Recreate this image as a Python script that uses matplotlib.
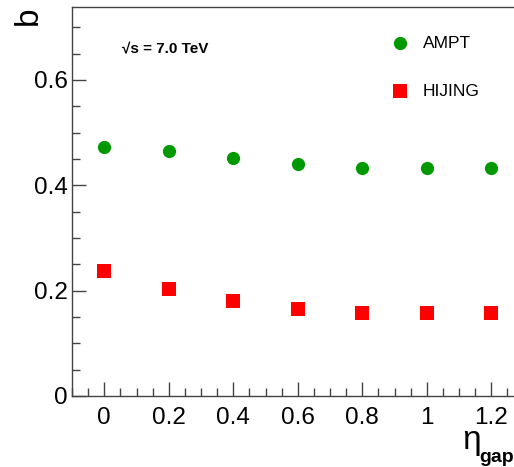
import matplotlib
matplotlib.use("Agg")
import matplotlib.pyplot as plt
from matplotlib.ticker import MultipleLocator

plt.rcParams['font.family'] = ['Liberation Sans', 'DejaVu Sans']

eta_gap = [0.0, 0.2, 0.4, 0.6, 0.8, 1.0, 1.2]
ampt = [0.472, 0.465, 0.451, 0.441, 0.433, 0.433, 0.433]
hijing = [0.238, 0.204, 0.180, 0.166, 0.158, 0.158, 0.158]
xticks = [0, 0.2, 0.4, 0.6, 0.8, 1, 1.2]
xticklabels = ['0', '0.2', '0.4', '0.6', '0.8', '1', '1.2']
yticks = [0, 0.2, 0.4, 0.6]
yticklabels = ['0', '0.2', '0.4', '0.6']

W, H = 514, 467
fig = plt.figure(figsize=(W/100, H/100), dpi=100)
left, right, bottom, top = 72, 588, 396, 7
ax = fig.add_axes([left/W, (H-bottom)/H, (right-left)/W, (bottom-top)/H])
ax.set_xlim(-0.1, 1.5)
ax.set_ylim(0, (bottom-top)/526.7)

ax.plot(eta_gap, ampt, 'o', color='#009900', markersize=9.5, markeredgewidth=0, label='AMPT')
ax.plot(eta_gap, hijing, 's', color='#ff0000', markersize=9.5, markeredgewidth=0, label='HIJING')

for s in ax.spines.values():
    s.set_color('#444444')
    s.set_linewidth(1.0)
ax.spines['right'].set_visible(False)

ax.set_xticks(xticks)
ax.set_xticklabels(xticklabels)
ax.set_yticks(yticks)
ax.set_yticklabels(yticklabels)
ax.xaxis.set_minor_locator(MultipleLocator(0.05))
ax.yaxis.set_minor_locator(MultipleLocator(0.05))
ax.tick_params(which='major', direction='in', length=10, width=1, color='#444444', labelsize=17.5)
ax.tick_params(which='minor', direction='in', length=5.5, width=1, color='#444444')
ax.tick_params(axis='x', pad=8)
ax.tick_params(axis='y', pad=3)

# legend: markers + text
ax.plot([0.918], [(396-43)/526.7], 'o', color='#009900', markersize=9.5, markeredgewidth=0, clip_on=False)
ax.plot([0.918], [(396-91)/526.7], 's', color='#ff0000', markersize=9.5, markeredgewidth=0, clip_on=False)
fig.text(423/W, 1-43/H, 'AMPT', fontsize=12.5, va='center', ha='left')
fig.text(423/W, 1-91/H, 'HIJING', fontsize=12.5, va='center', ha='left')

fig.text(122/W, 1-48/H, '√s = 7.0 TeV', fontsize=11, fontweight='bold', va='center', ha='left')

fig.text(28/W, 1-16/H, 'b', fontsize=24, rotation=90, va='center', ha='center')
fig.text(472/W, 1-440/H, 'η', fontsize=24, va='center', ha='center')
fig.text(479/W, 1-458/H, 'gap', fontsize=14, fontweight='bold', va='center', ha='left')

fig.savefig('out.png', dpi=100)
